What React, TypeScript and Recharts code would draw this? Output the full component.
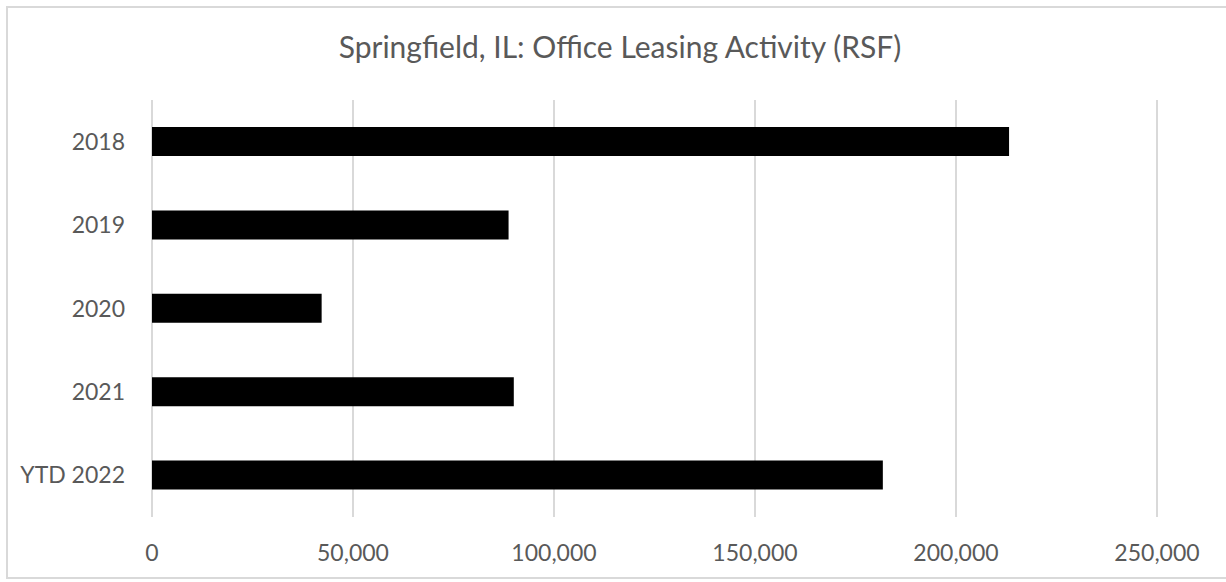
import { BarChart, Bar, XAxis, YAxis, CartesianGrid } from "recharts";

const categories = ["2018", "2019", "2020", "2021", "YTD 2022"];
const rsf = [213200, 88700, 42200, 90000, 181800];
const xTicks = [0, 50000, 100000, 150000, 200000, 250000];

const TEXT = "#595959";
const GRID = "#d9d9d9";
const FONT = "Lato, 'Noto Sans', sans-serif";

export default function App() {
  const data = categories.map((year, i) => ({ year, rsf: rsf[i] }));

  return (
    <div
      style={{
        position: "absolute",
        left: 0,
        top: 0,
        width: 1226,
        height: 582,
        overflow: "hidden",
        background: "#fff",
        fontFamily: FONT,
      }}
    >
      <div
        style={{
          position: "absolute",
          left: 6,
          top: 6,
          width: 1240,
          height: 569,
          border: `2px solid ${GRID}`,
        }}
      />
      <div
        style={{
          position: "absolute",
          left: 0,
          top: 27,
          width: 1240,
          textAlign: "center",
          color: TEXT,
          fontSize: 30,
          lineHeight: "38px",
        }}
      >
        Springfield, IL: Office Leasing Activity (RSF)
      </div>
      <div style={{ position: "absolute", left: 0, top: 0 }}>
        <BarChart
          width={1226}
          height={582}
          data={data}
          layout="vertical"
          margin={{ top: 100, right: 69, bottom: 5, left: 12 }}
        >
          <CartesianGrid horizontal={false} stroke={GRID} strokeWidth={2} />
          <XAxis
            type="number"
            domain={[0, 250000]}
            ticks={xTicks}
            interval={0}
            height={60}
            axisLine={false}
            tickLine={false}
            tickSize={0}
            tickMargin={28}
            tick={{ fill: TEXT, fontSize: 23, fontFamily: FONT }}
            tickFormatter={(v: number) => v.toLocaleString("en-US")}
          />
          <YAxis
            type="category"
            dataKey="year"
            width={140}
            axisLine={false}
            tickLine={false}
            tickSize={0}
            tickMargin={27}
            tick={{ fill: TEXT, fontSize: 23, fontFamily: FONT }}
          />
          <Bar dataKey="rsf" fill="#000" barSize={29} isAnimationActive={false} />
        </BarChart>
      </div>
    </div>
  );
}
